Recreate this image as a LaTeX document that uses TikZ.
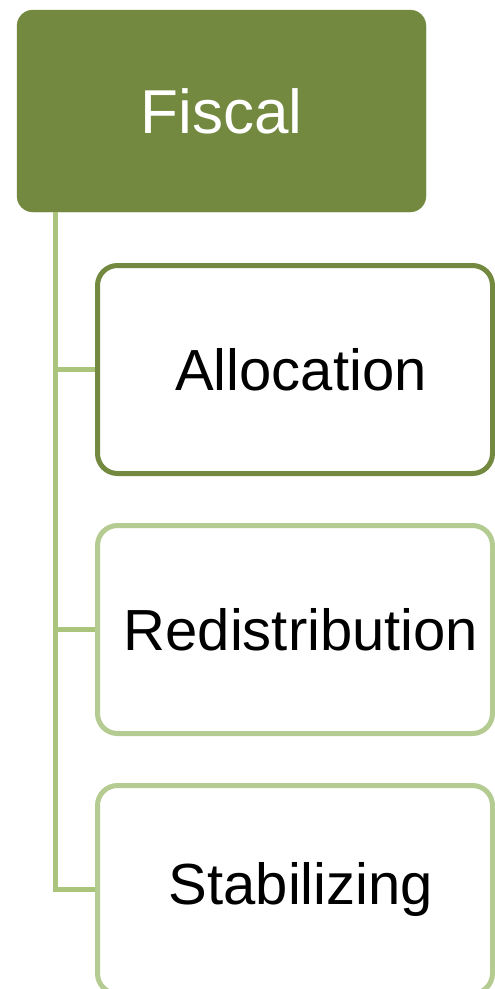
\documentclass[tikz,border=0pt]{standalone}
\usepackage{fontspec}
\setmainfont{Liberation Sans}
\definecolor{olive}{RGB}{114,137,63}
\definecolor{vertclair}{RGB}{170,196,124}
\definecolor{bordclair}{RGB}{180,203,145}
\begin{document}
\begin{tikzpicture}[x=1pt, y=-1pt]
\tikzset{racine/.style={fill=olive, draw=olive, text=white, rounded corners=16pt, minimum width=409pt, minimum height=202pt, font=\fontsize{62}{70}\selectfont}}
\tikzset{feuille/.style={draw=bordclair, line width=5pt, fill=white, rounded corners=20pt, minimum width=395pt, minimum height=208pt, font=\fontsize{58}{66}\selectfont, execute at begin node=\hspace*{12pt}}}
\tikzset{lien/.style={draw=vertclair, line width=5pt}}
\clip (0, 0) rectangle (495, 989);
\useasboundingbox (0, 0) rectangle (495, 989);
\node[racine] (fiscal) at (221.5, 111) {Fiscal};
\node[feuille, draw=olive] (alloc) at (295, 369.5) {Allocation};
\node[feuille] (redist) at (295, 629.5) {Redistribution};
\node[feuille] (stab) at (295, 889.5) {Stabilizing};
\draw[lien] ([xshift=38.5pt]fiscal.south west) |- (alloc.west);
\draw[lien] ([xshift=38.5pt]fiscal.south west) |- (redist.west);
\draw[lien] ([xshift=38.5pt]fiscal.south west) |- (stab.west);
\end{tikzpicture}
\end{document}
